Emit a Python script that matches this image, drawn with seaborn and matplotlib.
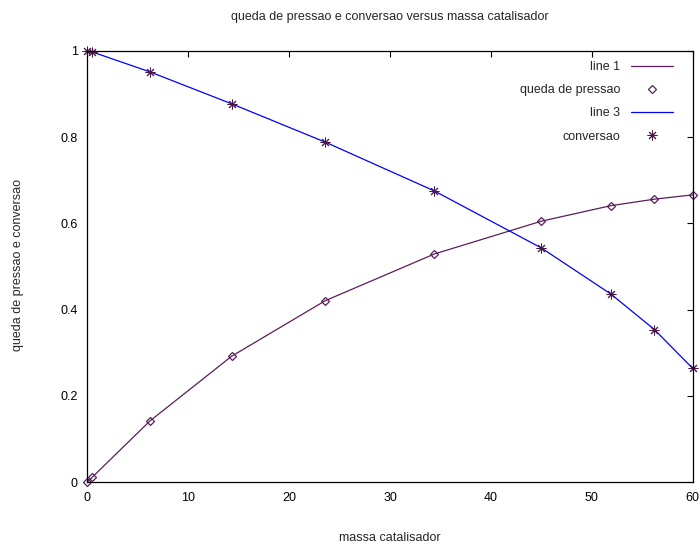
import matplotlib
matplotlib.use('Agg')
import matplotlib.pyplot as plt
import seaborn as sns
import numpy as np

# values
massa = [0, 0.5, 6.2, 14.3, 23.6, 34.4, 45.0, 51.9, 56.2, 60]
queda = [0, 0.012, 0.142, 0.292, 0.421, 0.529, 0.605, 0.641, 0.656, 0.666]
conversao = [1.0, 0.997, 0.951, 0.877, 0.788, 0.675, 0.543, 0.436, 0.354, 0.264]

xticks = [0, 10, 20, 30, 40, 50, 60]
yticks = [0, 0.2, 0.4, 0.6, 0.8, 1.0]
ytick_labels = ['0', '0.2', '0.4', '0.6', '0.8', '1']

purple = '#5a1e5a'
star_col = '#4a1548'
blue = '#0000ff'

sns.set_style('white')
plt.rcParams['font.family'] = ['Liberation Sans', 'DejaVu Sans']

fig = plt.figure(figsize=(6.99, 5.45), dpi=100)
ax = fig.add_axes([87.3/699, 1-482.3/545, (692.7-87.3)/699, (482.3-50.7)/545])

sns.lineplot(x=massa, y=queda, color=purple, linewidth=0.9, label='line 1', ax=ax)
sns.lineplot(x=massa, y=queda, color=purple, linestyle='', marker='D', markersize=4.3,
             markerfacecolor='none', markeredgecolor=purple, markeredgewidth=0.9,
             label='queda de pressao', clip_on=False, ax=ax)
sns.lineplot(x=massa, y=conversao, color=blue, linewidth=0.9, label='line 3', ax=ax)
sns.lineplot(x=massa, y=conversao, color=star_col, linestyle='', marker=(8, 2, 0), markersize=7,
             markeredgecolor=star_col, markeredgewidth=0.7,
             label='conversao', clip_on=False, ax=ax)

ax.set_xlim(0, 60)
ax.set_ylim(0, 1)
ax.set_xticks(xticks)
ax.set_yticks(yticks)
ax.set_yticklabels(ytick_labels)
ax.tick_params(direction='in', length=4, width=0.8, top=True, right=True,
               labelsize=9, pad=7, colors='black')
for s in ax.spines.values():
    s.set_color('black')
    s.set_linewidth(0.9)

fig.text(390/699, 1-17/545, 'queda de pressao e conversao versus massa catalisador',
         ha='center', va='center', fontsize=9)
fig.text(390/699, 1-538/545, 'massa catalisador', ha='center', va='center', fontsize=9)
fig.text(18/699, 1-265/545, 'queda de pressao e conversao', ha='center', va='center',
         rotation='vertical', fontsize=9)
ax.set_xlabel('')
ax.set_ylabel('')

ax.legend(loc='upper right', bbox_to_anchor=(673/699, 1-61/545), bbox_transform=fig.transFigure,
          frameon=False, markerfirst=False, fontsize=9, handlelength=3.4,
          handletextpad=0.8, labelspacing=0.9, borderpad=0, borderaxespad=0)

plt.savefig('out.png', dpi=100)
